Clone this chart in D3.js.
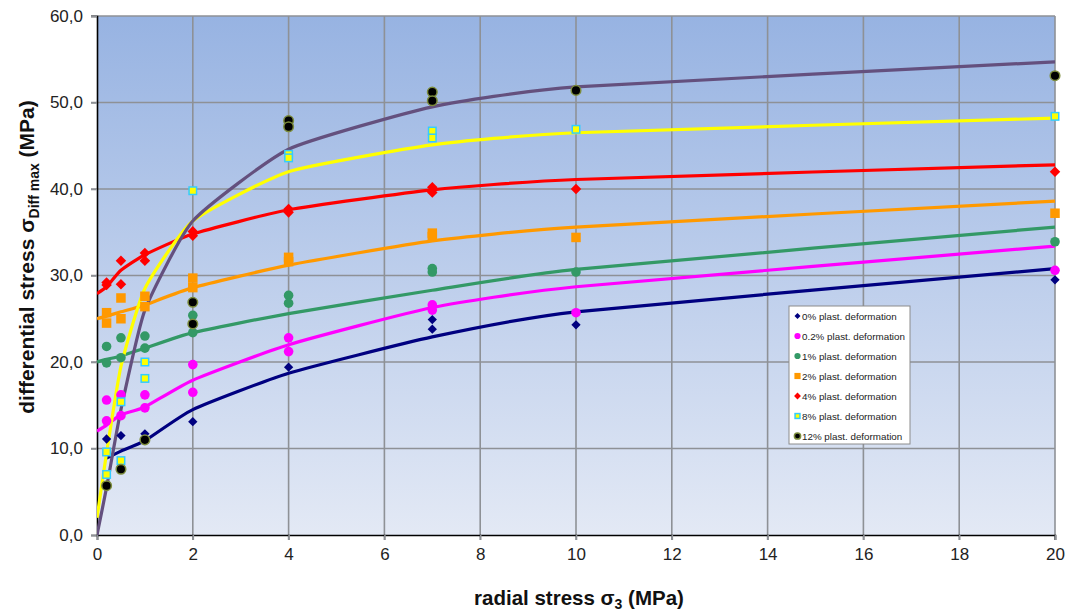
<!DOCTYPE html>
<html>
<head>
<meta charset="utf-8">
<script src="https://cdn.jsdelivr.net/npm/d3@7"></script>
<style>
  html, body { margin: 0; padding: 0; background: #ffffff; }
  svg { display: block; font-family: Arial, "Liberation Sans", sans-serif; }
</style>
</head>
<body>
<svg id="chart" width="1066" height="612"></svg>
<script>
// Radial stress levels (MPa) at which the tests were run
const xTicks = [0, 2, 4, 6, 8, 10, 12, 14, 16, 18, 20];
const yTicks = [0, 10, 20, 30, 40, 50, 60];

// Measured maximum differential stress per plastic deformation level
const seriesNames = [
  "0% plast. deformation", "0.2% plast. deformation", "1% plast. deformation",
  "2% plast. deformation", "4% plast. deformation", "8% plast. deformation",
  "12% plast. deformation"
];
const pts0x = [0.2, 0.5, 1, 2, 4, 7, 7, 10, 20];
const pts0y = [11.1, 11.5, 11.7, 13.1, 19.4, 24.9, 23.8, 24.3, 29.5];
const pts02x = [0.2, 0.2, 0.5, 0.5, 1, 1, 2, 2, 4, 4, 7, 7, 10, 20];
const pts02y = [15.6, 13.2, 16.2, 13.8, 16.2, 14.7, 19.7, 16.5, 22.8, 21.2, 26.6, 26.0, 25.7, 30.6];
const pts1x = [0.2, 0.2, 0.5, 0.5, 1, 1, 2, 2, 4, 4, 7, 7, 10, 20];
const pts1y = [21.8, 19.9, 22.8, 20.5, 23.0, 21.6, 25.4, 23.4, 27.7, 26.8, 30.8, 30.4, 30.4, 33.9];
const pts2x = [0.2, 0.2, 0.5, 0.5, 1, 1, 2, 2, 4, 4, 7, 7, 10, 20];
const pts2y = [25.7, 24.5, 27.4, 25.0, 27.6, 26.4, 29.7, 28.6, 32.1, 31.6, 34.9, 34.5, 34.4, 37.2];
const pts4x = [0.2, 0.2, 0.5, 0.5, 1, 1, 2, 2, 4, 4, 7, 7, 10, 20];
const pts4y = [29.2, 28.9, 31.7, 29.0, 32.6, 31.7, 35.1, 34.6, 37.7, 37.3, 40.2, 39.6, 40.0, 42.0];
const pts8x = [0.2, 0.2, 0.5, 0.5, 1, 1, 2, 4, 4, 7, 7, 10, 20];
const pts8y = [9.6, 7.0, 15.4, 8.6, 20.0, 18.1, 39.8, 44.0, 43.6, 46.7, 45.9, 46.9, 48.4];
const pts12x = [0.2, 0.5, 1, 2, 2, 4, 4, 7, 7, 10, 20];
const pts12y = [5.7, 7.6, 11.0, 26.9, 24.4, 47.9, 47.2, 51.2, 50.2, 51.4, 53.1];

// Fitted strength curves, evaluated at these radial stresses
const fitX = [0, 0.2, 0.5, 1, 2, 4, 7, 10, 20];
const fit0 = [null, 8.9, 9.7, 10.9, 14.5, 18.7, 22.9, 25.8, 30.8];
const fit02 = [12.0, 12.7, 13.9, 14.8, 17.9, 22.0, 26.3, 28.7, 33.4];
const fit1 = [20.0, 20.3, 20.7, 21.6, 23.4, 25.6, 28.3, 30.7, 35.6];
const fit2 = [25.0, 25.3, 25.8, 26.6, 28.6, 31.2, 34.0, 35.6, 38.6];
const fit4 = [27.9, 28.7, 30.6, 32.4, 34.8, 37.6, 39.9, 41.1, 42.8];
const fit8 = [2.0, 9.5, 19.5, 28.5, 36.3, 42.0, 45.1, 46.5, 48.2];
const fit12 = [0, 5.5, 14.5, 26.0, 36.3, 44.6, 49.5, 51.8, 54.7];

const lineColors = ["#000080", "#FF00FF", "#339966", "#FF9900", "#FF0000", "#FFFF00", "#64507E"];

const series = [
  { name: seriesNames[0], xs: pts0x, ys: pts0y, fit: fit0, shape: "diamond", fill: "#000080", stroke: "none", size: 7.5 },
  { name: seriesNames[1], xs: pts02x, ys: pts02y, fit: fit02, shape: "circle", fill: "#FF00FF", stroke: "none", size: 4.8 },
  { name: seriesNames[2], xs: pts1x, ys: pts1y, fit: fit1, shape: "circle", fill: "#339966", stroke: "none", size: 4.8 },
  { name: seriesNames[3], xs: pts2x, ys: pts2y, fit: fit2, shape: "square", fill: "#FF9900", stroke: "none", size: 9.5 },
  { name: seriesNames[4], xs: pts4x, ys: pts4y, fit: fit4, shape: "diamond", fill: "#FF0000", stroke: "none", size: 8.5 },
  { name: seriesNames[5], xs: pts8x, ys: pts8y, fit: fit8, shape: "square", fill: "#FFFF00", stroke: "#33CCFF", size: 7.5 },
  { name: seriesNames[6], xs: pts12x, ys: pts12y, fit: fit12, shape: "circle", fill: "#000000", stroke: "#7C8C3C", size: 4.8 }
];

const svg = d3.select("#chart");
const margin = { left: 97, top: 16, right: 11, bottom: 77 };
const W = 1066, H = 612;
const x = d3.scaleLinear().domain([0, 20]).range([margin.left, W - margin.right]);
const y = d3.scaleLinear().domain([0, 60]).range([H - margin.bottom, margin.top]);

// plot background gradient
const defs = svg.append("defs");
const grad = defs.append("linearGradient").attr("id", "bg").attr("x1", 0).attr("y1", 0).attr("x2", 0).attr("y2", 1);
grad.append("stop").attr("offset", "0%").attr("stop-color", "#97B3E2");
grad.append("stop").attr("offset", "100%").attr("stop-color", "#E3E9F5");
svg.append("rect")
  .attr("x", x(0)).attr("y", y(60))
  .attr("width", x(20) - x(0)).attr("height", y(0) - y(60))
  .attr("fill", "url(#bg)");

// gridlines
const gridColor = "#8E9196";
svg.append("g").selectAll("line").data(yTicks.filter(d => d > 0)).join("line")
  .attr("x1", x(0) - 6).attr("x2", x(20))
  .attr("y1", d => y(d)).attr("y2", d => y(d))
  .attr("stroke", gridColor).attr("stroke-width", 1.6);
svg.append("g").selectAll("line").data(xTicks.filter(d => d > 0)).join("line")
  .attr("x1", d => x(d)).attr("x2", d => x(d))
  .attr("y1", y(60)).attr("y2", y(0) + 5)
  .attr("stroke", gridColor).attr("stroke-width", 1.6);

// axes
const yAxis = d3.axisLeft(y).tickValues(yTicks).tickSize(6).tickPadding(8)
  .tickFormat(d => d3.format(".1f")(d).replace(".", ","));
const gy = svg.append("g").attr("transform", `translate(${x(0)},0)`).call(yAxis);
gy.select(".domain").attr("stroke", "#000").attr("stroke-width", 1.6);
gy.selectAll(".tick line").attr("stroke", gridColor).attr("stroke-width", 1.6);
gy.selectAll(".tick text").attr("font-size", 17).attr("fill", "#222")
  .attr("font-family", "Arial, 'Liberation Sans', sans-serif");

const xAxis = d3.axisBottom(x).tickValues(xTicks).tickSize(5).tickPadding(8).tickFormat(d3.format("d"));
const gx = svg.append("g").attr("transform", `translate(0,${y(0)})`).call(xAxis);
gx.select(".domain").attr("stroke", "#000").attr("stroke-width", 1.6);
gx.selectAll(".tick line").attr("stroke", gridColor).attr("stroke-width", 1.6);
gx.selectAll(".tick text").attr("font-size", 17).attr("fill", "#222")
  .attr("font-family", "Arial, 'Liberation Sans', sans-serif");

// fitted curves
const clip = defs.append("clipPath").attr("id", "plotclip");
clip.append("rect").attr("x", x(0)).attr("y", y(60)).attr("width", x(20) - x(0) + 2).attr("height", y(0) - y(60));
const line = d3.line()
  .x(d => x(d[0])).y(d => y(d[1]))
  .curve(d3.curveCardinal.tension(0.5));
const gLines = svg.append("g").attr("clip-path", "url(#plotclip)");
series.forEach((s, i) => {
  gLines.append("path")
    .datum(fitX.map((v, k) => [v, s.fit[k]]).filter(d => d[1] != null))
    .attr("d", line)
    .attr("fill", "none")
    .attr("stroke", lineColors[i])
    .attr("stroke-width", 3.2)
    .attr("stroke-linejoin", "round");
});

// markers
function drawMarker(g, s, cx, cy, scale) {
  const r = s.size * (scale || 1);
  let m;
  if (s.shape === "circle") {
    m = g.append("circle").attr("cx", cx).attr("cy", cy).attr("r", r);
  } else if (s.shape === "square") {
    m = g.append("rect").attr("x", cx - r / 2).attr("y", cy - r / 2).attr("width", r).attr("height", r);
  } else {
    const h = r * 0.62;
    m = g.append("path").attr("d", `M${cx},${cy - h}L${cx + h},${cy}L${cx},${cy + h}L${cx - h},${cy}Z`);
  }
  m.attr("fill", s.fill);
  if (s.stroke !== "none") m.attr("stroke", s.stroke).attr("stroke-width", 1.5);
  return m;
}
const gPts = svg.append("g");
series.forEach(s => {
  s.xs.forEach((xv, k) => drawMarker(gPts, s, x(xv), y(s.ys[k])));
});

// legend
const lg = svg.append("g").attr("transform", "translate(789,306)");
lg.append("rect").attr("x", 0).attr("y", 0).attr("width", 121).attr("height", 138)
  .attr("fill", "#ffffff").attr("stroke", "#8C8C8C").attr("stroke-width", 1);
series.forEach((s, i) => {
  const yy = 10 + i * 20;
  drawMarker(lg, s, 8.5, yy, 0.65);
  lg.append("text").attr("x", 13).attr("y", yy + 3.5)
    .attr("font-size", 9.8).attr("fill", "#222")
    .text(s.name);
});

// axis titles
const xt = svg.append("text").attr("x", 579).attr("y", 605)
  .attr("text-anchor", "middle").attr("font-size", 20.5).attr("font-weight", "bold").attr("fill", "#111");
xt.append("tspan").text("radial stress σ");
xt.append("tspan").attr("font-size", 14).attr("dy", 4).text("3");
xt.append("tspan").attr("dy", -4).text(" (MPa)");

const yt = svg.append("text").attr("transform", "translate(34,257) rotate(-90)")
  .attr("text-anchor", "middle").attr("font-size", 21).attr("font-weight", "bold").attr("fill", "#111");
yt.append("tspan").text("differential stress σ");
yt.append("tspan").attr("font-size", 14).attr("dy", 5).text("Diff max");
yt.append("tspan").attr("dy", -5).text(" (MPa)");
</script>
</body>
</html>
